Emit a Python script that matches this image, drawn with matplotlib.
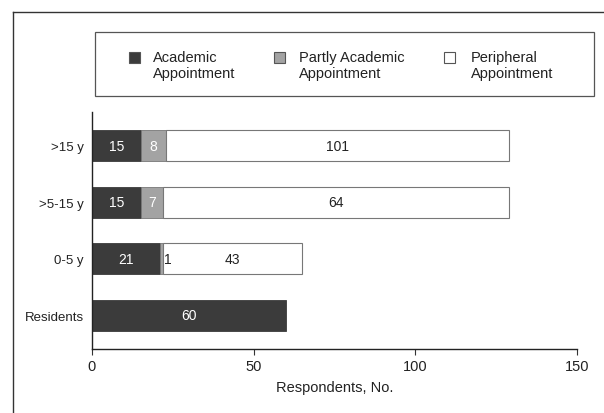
import matplotlib
matplotlib.use("Agg")
import matplotlib.pyplot as plt
from matplotlib.patches import Rectangle
from matplotlib.lines import Line2D

plt.rcParams['font.family'] = ['Liberation Sans Narrow', 'Liberation Sans', 'DejaVu Sans']

# ---- data ----
categories = [">15 y", ">5-15 y", "0-5 y", "Residents"]
academic = [15, 15, 21, 60]
partly = [8, 7, 1, 0]
# bar lengths as drawn in the reference vs. numbers printed on them
peripheral_drawn = [106, 107, 43, 0]
peripheral_labels = ["101", "64", "43", ""]
academic_labels = ["15", "15", "21", "60"]
partly_labels = ["8", "7", "1", ""]
xticks = [0, 50, 100, 150]
series_names = ["Academic\nAppointment", "Partly Academic\nAppointment", "Peripheral\nAppointment"]
xlabel = "Respondents, No."

c_acad = "#3b3b3b"
c_part = "#a3a3a3"
c_peri = "#ffffff"
edge = "#777777"

W, H = 604, 414
fig = plt.figure(figsize=(W / 100, H / 100), dpi=100)

def fx(px):
    return px / W

def fy(py):
    return 1 - py / H

ax = fig.add_axes([fx(92), fy(350), fx(577) - fx(92), fy(113) - fy(350)])

ypos = [3, 2, 1, 0]
h = 0.55
for i, y in enumerate(ypos):
    a, p, r = academic[i], partly[i], peripheral_drawn[i]
    ax.barh(y, a, height=h, color=c_acad, edgecolor=c_acad, linewidth=0.6)
    ax.text(a / 2, y, academic_labels[i], ha="center", va="center",
            color="white", fontsize=10)
    if p > 0:
        ax.barh(y, p, left=a, height=h, color=c_part, edgecolor=edge, linewidth=0.6)
    if r > 0:
        ax.barh(y, r, left=a + p, height=h, color=c_peri, edgecolor=edge, linewidth=0.8)
        ax.text(a + p + r / 2, y, peripheral_labels[i], ha="center", va="center",
                color="#222222", fontsize=10)
    if partly_labels[i]:
        if p >= 4:
            ax.text(a + p / 2, y, partly_labels[i], ha="center", va="center",
                    color="white", fontsize=10)
        else:
            ax.text(a + p + 0.4, y, partly_labels[i], ha="left", va="center",
                    color="#222222", fontsize=10)

ax.set_xlim(0, 150)
ax.set_ylim(-0.6, 3.6)
ax.set_xticks(xticks)
ax.set_xticklabels([str(t) for t in xticks], fontsize=10.5, color="#222222")
ax.set_yticks(ypos)
ax.set_yticklabels(categories, fontsize=9.5, color="#222222")
ax.tick_params(axis="y", length=0, pad=6)
ax.tick_params(axis="x", length=4, width=0.8, direction="out", pad=3, color="#333333")
for s in ["top", "right"]:
    ax.spines[s].set_visible(False)
for s in ["left", "bottom"]:
    ax.spines[s].set_linewidth(1.0)
    ax.spines[s].set_color("#222222")
ax.set_xlabel(xlabel, fontsize=10.5, color="#222222", labelpad=5)

# outer frame (left and top only)
fig.add_artist(Line2D([fx(13), fx(13)], [fy(13), 0], transform=fig.transFigure,
                      color="#333333", linewidth=1.0))
fig.add_artist(Line2D([fx(13), 1], [fy(13), fy(13)], transform=fig.transFigure,
                      color="#333333", linewidth=1.0))

# legend box
fig.add_artist(Rectangle((fx(95), fy(97)), fx(594) - fx(95), fy(33) - fy(97),
                         transform=fig.transFigure, fill=False,
                         edgecolor="#555555", linewidth=0.9))
colors = [c_acad, c_part, c_peri]
sq_x = [129, 274, 444]
txt_x = [153, 299, 471]
for i in range(3):
    fig.add_artist(Rectangle((fx(sq_x[i]), fy(64)), fx(11), fy(53) - fy(64),
                             transform=fig.transFigure, facecolor=colors[i],
                             edgecolor="#555555", linewidth=0.8))
    fig.text(fx(txt_x[i]), fy(51), series_names[i], ha="left", va="top",
             fontsize=10.5, color="#222222", linespacing=1.2)

fig.savefig("out.png", dpi=100, facecolor="white")
